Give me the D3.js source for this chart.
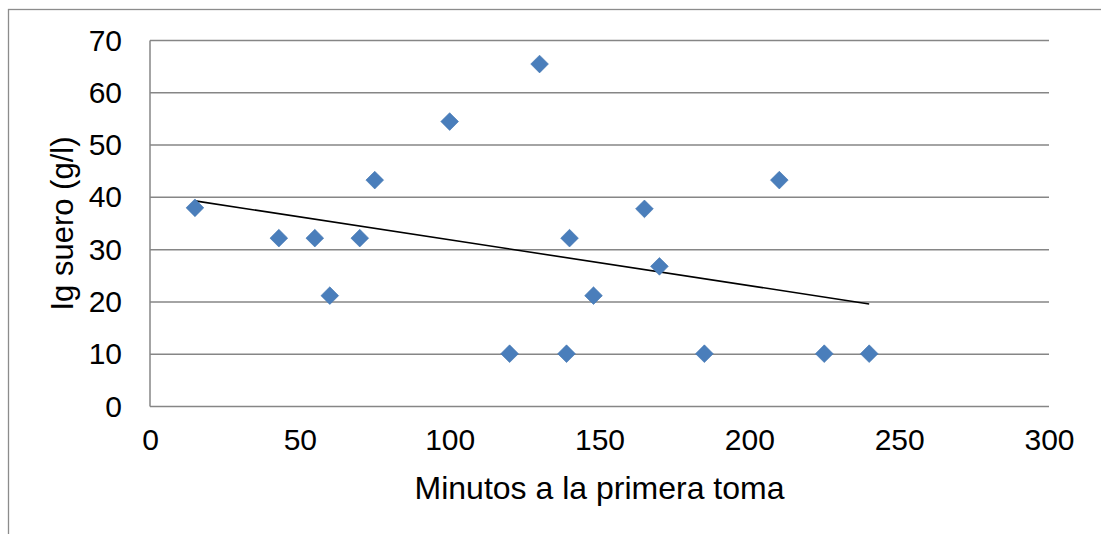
<!DOCTYPE html>
<html>
<head>
<meta charset="utf-8">
<script src="https://cdn.jsdelivr.net/npm/d3@7"></script>
<style>
  html, body { margin: 0; padding: 0; background: #fff; }
  svg { display: block; font-family: "Liberation Sans", Arial, sans-serif; }
</style>
</head>
<body>
<svg id="chart" width="1101" height="534"></svg>
<script>
// Minutes to first sample vs serum IgG
const minutos = [15, 43, 55, 60, 70, 75, 100, 120, 130, 139, 140, 148, 165, 170, 185, 210, 225, 240];
const igSuero = [38, 32.2, 32.2, 21.2, 32.2, 43.3, 54.5, 10.1, 65.5, 10.1, 32.2, 21.2, 37.8, 26.8, 10.1, 43.3, 10.1, 10.1];
const xTicks = [0, 50, 100, 150, 200, 250, 300];
const yTicks = [0, 10, 20, 30, 40, 50, 60, 70];
const xTitle = "Minutos a la primera toma";
const yTitle = "Ig suero (g/l)";

const svg = d3.select("#chart");
const plot = { left: 150, right: 1049, top: 40.5, bottom: 406.5 };

const x = d3.scaleLinear().domain([0, 300]).range([plot.left, plot.right]);
const y = d3.scaleLinear().domain([0, 70]).range([plot.bottom, plot.top]);

// outer chart frame
svg.append("rect")
  .attr("x", 8.5).attr("y", 9.5)
  .attr("width", 1110).attr("height", 540)
  .attr("fill", "none").attr("stroke", "#8c8c8c").attr("stroke-width", 1.3);

// horizontal gridlines
svg.append("g")
  .selectAll("line")
  .data(yTicks)
  .join("line")
  .attr("x1", plot.left).attr("x2", plot.right)
  .attr("y1", d => y(d)).attr("y2", d => y(d))
  .attr("stroke", "#868686").attr("stroke-width", 1.5);

// y axis line
svg.append("line")
  .attr("x1", plot.left).attr("x2", plot.left)
  .attr("y1", plot.top).attr("y2", plot.bottom)
  .attr("stroke", "#868686").attr("stroke-width", 1.5);

// y tick labels
const yAxis = d3.axisLeft(y).tickValues(yTicks).tickSize(0).tickPadding(28);
svg.append("g")
  .attr("transform", `translate(${plot.left},0)`)
  .call(yAxis)
  .call(g => g.select(".domain").remove())
  .call(g => g.selectAll("text")
    .attr("font-size", 30).attr("fill", "#000")
    .attr("font-family", "'Liberation Sans', Arial, sans-serif"));

// x tick labels
const xAxis = d3.axisBottom(x).tickValues(xTicks).tickSize(0).tickPadding(22);
svg.append("g")
  .attr("transform", `translate(0,${plot.bottom})`)
  .call(xAxis)
  .call(g => g.select(".domain").remove())
  .call(g => g.selectAll("text")
    .attr("font-size", 30).attr("fill", "#000")
    .attr("font-family", "'Liberation Sans', Arial, sans-serif"));

// least-squares trendline over the data range
const mx = d3.mean(minutos), my = d3.mean(igSuero);
let sxy = 0, sxx = 0;
minutos.forEach((v, i) => { sxy += (v - mx) * (igSuero[i] - my); sxx += (v - mx) ** 2; });
const slope = sxy / sxx, intercept = my - slope * mx;
const [x0, x1] = d3.extent(minutos);
svg.append("line")
  .attr("x1", x(x0)).attr("y1", y(intercept + slope * x0))
  .attr("x2", x(x1)).attr("y2", y(intercept + slope * x1))
  .attr("stroke", "#000").attr("stroke-width", 1.6);

// diamond markers
const diamond = d3.symbol().type(d3.symbolDiamond2).size(200);
svg.append("g")
  .selectAll("path")
  .data(minutos.map((m, i) => [m, igSuero[i]]))
  .join("path")
  .attr("d", diamond)
  .attr("transform", d => `translate(${x(d[0])},${y(d[1])})`)
  .attr("fill", "#4a7ebb").attr("stroke", "#3f73b0").attr("stroke-width", 0.6);

// axis titles
svg.append("text")
  .attr("x", (plot.left + plot.right) / 2).attr("y", 499)
  .attr("text-anchor", "middle").attr("font-size", 32).attr("fill", "#000")
  .text(xTitle);

svg.append("text")
  .attr("transform", `translate(73,${(plot.top + plot.bottom) / 2}) rotate(-90)`)
  .attr("text-anchor", "middle").attr("font-size", 31).attr("fill", "#000")
  .text(yTitle);
</script>
</body>
</html>
